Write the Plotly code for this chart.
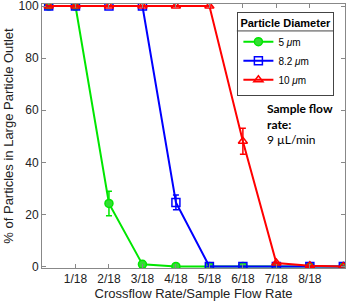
import plotly.graph_objects as go

x_vals = [0.2, 1, 2, 3, 4, 5, 6, 7, 8, 9]
tick_vals = [1, 2, 3, 4, 5, 6, 7, 8]
tick_text = ["1/18", "2/18", "3/18", "4/18", "5/18", "6/18", "7/18", "8/18"]

green_5um = [100, 100, 24.2, 0.8, 0, 0, 0, 0, 0, 0]
green_err = [0, 0, 4.7, 0, 0, 0, 0, 0, 0, 0]
blue_8um = [100, 100, 100, 100, 24.6, 0, 0, 0, 0, 0]
blue_err = [0, 0, 0, 0, 2.8, 0, 0, 0, 0, 0]
red_10um = [100, 100, 100, 100, 100, 100, 48.1, 1.3, 0.3, 0]
red_err = [0, 0, 0, 0, 0, 0, 5.0, 0, 0, 0]

series = [
    ("5 <i>μ</i>m", green_5um, green_err, "#00E600", "circle", "#33DD33"),
    ("8.2 <i>μ</i>m", blue_8um, blue_err, "#0000FF", "square-open", None),
    ("10 <i>μ</i>m", red_10um, red_err, "#FF0000", "triangle-up-open", None),
]

fig = go.Figure()
for name, y, err, col, sym, fill in series:
    fig.add_trace(go.Scatter(
        x=x_vals, y=y, name=name, mode="lines+markers",
        line=dict(color=col, width=2),
        marker=dict(symbol=sym, size=8, color=fill if fill else col,
                    line=dict(color=col, width=1.5)),
        error_y=dict(type="data", array=err, visible=True, color=col,
                     thickness=1.5, width=3),
    ))

axis_common = dict(showline=True, linecolor="#888888", linewidth=1, mirror="ticks",
                   ticks="inside", ticklen=4, tickcolor="#888888", showgrid=False,
                   zeroline=False, automargin=False, ticklabeloverflow="allow",
                   tickfont=dict(family="Liberation Sans", size=12, color="#222"))

fig.update_xaxes(range=[0, 9.05], tickvals=tick_vals, ticktext=tick_text,
                 title=dict(text="Crossflow Rate/Sample Flow Rate", standoff=2,
                            font=dict(family="Liberation Sans", size=13, color="#222")),
                 **axis_common)
fig.update_yaxes(range=[-0.6, 100.8], tickvals=[0, 20, 40, 60, 80, 100],
                 title=dict(text="% of Particles in Large Particle Outlet", standoff=2,
                            font=dict(family="Liberation Sans", size=13, color="#222")),
                 **axis_common)

fig.update_layout(
    width=352, height=307,
    margin=dict(l=42, r=7, t=4, b=39),
    paper_bgcolor="white", plot_bgcolor="white",
    showlegend=True,
    legend=dict(x=0.965, y=0.97, xanchor="right", yanchor="top",
                bgcolor="rgba(255,255,255,0)", bordercolor="#444", borderwidth=1,
                title=dict(text="<b>Particle Diameter</b>",
                           font=dict(family="Liberation Sans", size=11, color="black")),
                font=dict(family="Liberation Sans", size=10, color="black"),
                itemwidth=30, tracegroupgap=0),
    shapes=[dict(type="line", xref="paper", yref="paper",
                 x0=0.643, x1=0.963, y0=0.898, y1=0.898,
                 line=dict(color="#444", width=1), layer="above")],
    annotations=[dict(
        x=0.735, y=0.64, xref="paper", yref="paper", xanchor="left", yanchor="top",
        align="left", showarrow=False,
        text="<b>Sample flow</b><br><b>rate:</b><br>9 µL/min",
        font=dict(family="Lato", size=12, color="black"),
    )],
)

fig.write_html("out.html", config={"displayModeBar": False},
               post_script="document.body.style.margin='0';document.body.style.overflow='hidden';")
